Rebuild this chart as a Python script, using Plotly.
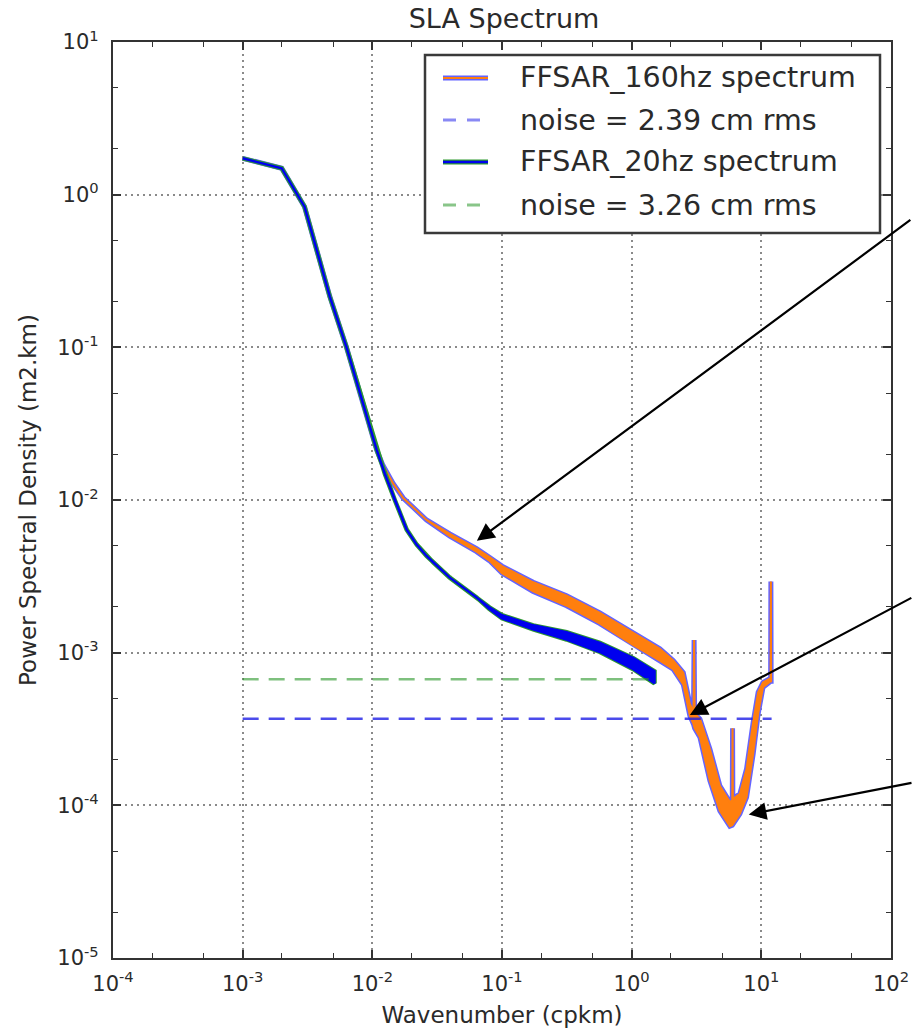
import math
import plotly.graph_objects as go

# ---- spectra (wavenumber in cpkm, PSD envelope in m2.km) ----
k_160hz = [0.001, 0.002, 0.003, 0.0047, 0.0063, 0.0085, 0.0108, 0.0121, 0.0145, 0.0173,
           0.0262, 0.0396, 0.0637, 0.08, 0.1, 0.174, 0.315, 0.569, 1.03, 1.65, 2.09, 2.5,
           2.81, 3.0, 3.03, 3.06, 3.36, 4.01, 4.79, 5.72, 5.97, 6.0, 6.03, 6.83, 7.69,
           8.65, 9.45, 10.3, 11.8, 11.85, 11.9]
psd_160hz_low = [1.73, 1.49, 0.834, 0.215, 0.101, 0.043, 0.0213, 0.0168, 0.0128, 0.0103,
                 0.0074, 0.0058, 0.00459, 0.00401, 0.00332, 0.00252, 0.00203, 0.00155,
                 0.00112, 0.000886, 0.00078, 0.00062, 0.000386, 0.00034, 0.00033,
                 0.00032, 0.000279, 0.000145, 9.2e-5, 7.3e-5, 7.4e-5, 7.4e-5, 7.5e-5,
                 8.8e-5, 1.13e-4, 2.17e-4, 3.97e-4, 5.93e-4, 6.5e-4, 6.5e-4, 6.5e-4]
psd_160hz_high = [1.73, 1.49, 0.834, 0.215, 0.101, 0.043, 0.0213, 0.0168, 0.0128, 0.0103,
                  0.0074, 0.0060, 0.00481, 0.00422, 0.00369, 0.00289, 0.00236, 0.00182,
                  0.00135, 0.00106, 0.00089, 0.00074, 0.000462, 0.00041, 0.00121,
                  0.00040, 0.000368, 0.000234, 1.34e-4, 1.05e-4, 1.08e-4, 3.2e-4, 1.1e-4,
                  1.19e-4, 1.73e-4, 3.5e-4, 5.5e-4, 6.38e-4, 6.8e-4, 2.92e-3, 6.8e-4]

k_20hz = [0.001, 0.002, 0.003, 0.0047, 0.0063, 0.0085, 0.0108, 0.0125, 0.0149, 0.0184,
          0.022, 0.0262, 0.0295, 0.0396, 0.0637, 0.08, 0.1, 0.174, 0.315, 0.569, 1.03, 1.5]
psd_20hz_low = [1.73, 1.49, 0.834, 0.215, 0.101, 0.043, 0.0213, 0.0148, 0.0100, 0.0064,
                0.0051, 0.0043, 0.0039, 0.0031, 0.0023, 0.00193, 0.00168, 0.00142,
                0.00122, 0.00101, 0.00078, 0.00063]
psd_20hz_high = [1.73, 1.49, 0.834, 0.215, 0.101, 0.043, 0.0213, 0.0148, 0.0100, 0.0064,
                 0.0051, 0.0043, 0.0039, 0.0031, 0.0023, 0.00198, 0.00176, 0.00151,
                 0.00136, 0.00116, 0.00092, 0.000755]

# ---- white-noise levels ----
noise_160hz_k = [0.001, 12.0]
noise_160hz_psd = [3.69e-4, 3.69e-4]
noise_20hz_k = [0.001, 1.5]
noise_20hz_psd = [6.7e-4, 6.7e-4]

legend_labels = ["FFSAR_160hz spectrum", "noise = 2.39 cm rms",
                 "FFSAR_20hz spectrum", "noise = 3.26 cm rms"]

x_tickvals = [1e-4, 1e-3, 1e-2, 1e-1, 1e0, 1e1, 1e2]
x_ticktext = ["10<sup>-4</sup>", "10<sup>-3</sup>", "10<sup>-2</sup>", "10<sup>-1</sup>",
              "10<sup>0</sup>", "10<sup>1</sup>", "10<sup>2</sup>"]
y_tickvals = [1e-5, 1e-4, 1e-3, 1e-2, 1e-1, 1e0, 1e1]
y_ticktext = ["10<sup>-5</sup>", "10<sup>-4</sup>", "10<sup>-3</sup>", "10<sup>-2</sup>",
              "10<sup>-1</sup>", "10<sup>0</sup>", "10<sup>1</sup>"]

# colours
ORANGE = "#ff7f0e"
EDGE_160 = "#6464ff"
BLUE = "#0000ee"
EDGE_20 = "#2e9a2e"
NOISE_BLUE = "rgba(30,30,230,0.8)"
NOISE_GREEN = "rgba(40,150,40,0.6)"
FONT = "DejaVu Sans"
TEXT = "#2a2a2a"

W, H = 913, 1033
L, R, T, B = 113, 22, 42, 75


def band(k, low, high):
    """Closed outline: upper envelope forward, lower envelope back."""
    return list(k) + list(k)[::-1], list(high) + list(low)[::-1]


fig = go.Figure()


def add_spectrum(k, low, high, face, edge, w_edge, w_face):
    xs, ys = band(k, low, high)
    fig.add_trace(go.Scatter(x=xs, y=ys, mode="lines", fill="toself", fillcolor=edge,
                             line=dict(color=edge, width=w_edge), showlegend=False,
                             hoverinfo="skip"))
    fig.add_trace(go.Scatter(x=xs, y=ys, mode="lines", fill="toself", fillcolor=face,
                             line=dict(color=face, width=w_face), showlegend=False,
                             hoverinfo="skip"))


add_spectrum(k_160hz, psd_160hz_low, psd_160hz_high, ORANGE, EDGE_160, 5, 2)
fig.add_trace(go.Scatter(x=noise_160hz_k, y=noise_160hz_psd, mode="lines",
                         line=dict(color=NOISE_BLUE, width=2.5, dash="16px,10px"),
                         showlegend=False, hoverinfo="skip"))
add_spectrum(k_20hz, psd_20hz_low, psd_20hz_high, BLUE, EDGE_20, 4.5, 2.5)
fig.add_trace(go.Scatter(x=noise_20hz_k, y=noise_20hz_psd, mode="lines",
                         line=dict(color=NOISE_GREEN, width=2.5, dash="16px,10px"),
                         showlegend=False, hoverinfo="skip"))


def px_x(px):
    return (px - L) / (W - L - R)


def px_y(py):
    return (H - B - py) / (H - T - B)


# ---- legend box drawn by hand ----
shapes = [dict(type="rect", xref="paper", yref="paper", x0=px_x(425), x1=px_x(880),
               y0=px_y(233), y1=px_y(55), line=dict(color="#3a3a3a", width=2.5),
               fillcolor="white", layer="above")]
rows = [78, 120, 162, 205]
lx0, lx1 = px_x(443), px_x(488)


def hline(y, color, width, dash="solid"):
    return dict(type="line", xref="paper", yref="paper", x0=lx0, x1=lx1,
                y0=px_y(y), y1=px_y(y), line=dict(color=color, width=width, dash=dash))


shapes += [hline(rows[0], EDGE_160, 5), hline(rows[0], ORANGE, 2),
           hline(rows[1], "rgba(40,40,235,0.55)", 3, "13px,11px"),
           hline(rows[2], EDGE_20, 5), hline(rows[2], BLUE, 2.5),
           hline(rows[3], "rgba(40,150,40,0.55)", 3, "13px,11px")]

annotations = [dict(xref="paper", yref="paper", x=px_x(518), y=px_y(ry), text=lab,
                    showarrow=False, xanchor="left", yanchor="middle",
                    font=dict(family=FONT, size=28.5, color=TEXT))
               for ry, lab in zip(rows, legend_labels)]

# ---- pointer arrows ----
arrow_tips = [(0.064, 0.0054, 435, -322), (2.81, 3.9e-4, 223, -118), (8.0, 8.7e-5, 165, -32)]
for kx, py, ax, ay in arrow_tips:
    annotations.append(dict(x=math.log10(kx), y=math.log10(py), xref="x", yref="y",
                            ax=ax, ay=ay, text="", showarrow=True, arrowhead=2,
                            arrowsize=1.6, arrowwidth=2.2, arrowcolor="black", standoff=0))

axis_common = dict(type="log", showline=True, linecolor="#333333", linewidth=2.2,
                   mirror="allticks", ticks="inside", ticklen=8, tickwidth=1.5,
                   tickcolor="#333333", showgrid=True, gridcolor="#8a8a8a",
                   griddash="2px,4px", gridwidth=1.6, zeroline=False, automargin=False,
                   tickfont=dict(family=FONT, size=21, color=TEXT),
                   minor=dict(ticks="inside", ticklen=4.5, tickwidth=1.2,
                              tickcolor="#333333", showgrid=False))

fig.update_layout(
    width=W, height=H,
    margin=dict(l=L, r=R, t=T, b=B),
    paper_bgcolor="white", plot_bgcolor="white",
    showlegend=False,
    title=dict(text="SLA Spectrum", x=504 / W, xanchor="center",
               y=1 - 19 / H, yanchor="middle",
               font=dict(family=FONT, size=27, color=TEXT)),
    xaxis=dict(axis_common, range=[-4, 2], tickvals=x_tickvals, ticktext=x_ticktext,
               ticklabelstandoff=6,
               title=dict(text="Wavenumber (cpkm)", standoff=12,
                          font=dict(family=FONT, size=23, color=TEXT))),
    yaxis=dict(axis_common, range=[-5, 1], tickvals=y_tickvals, ticktext=y_ticktext,
               ticklabelstandoff=8,
               title=dict(text="Power Spectral Density (m2.km)", standoff=14,
                          font=dict(family=FONT, size=23, color=TEXT))),
    shapes=shapes,
    annotations=annotations,
)

fig.write_html("out.html")
